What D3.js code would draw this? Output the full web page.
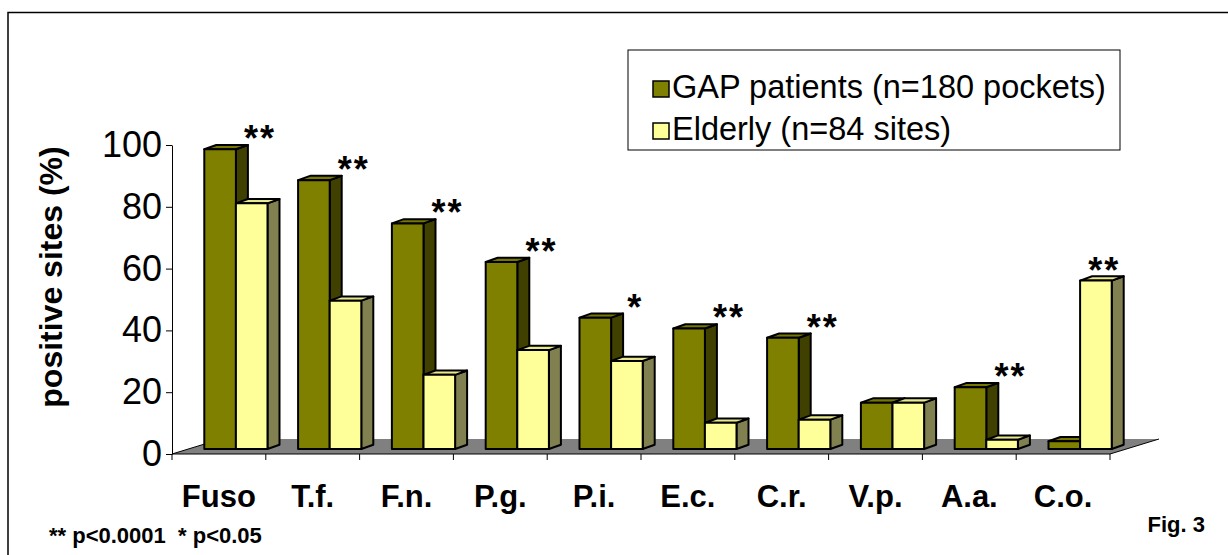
<!DOCTYPE html>
<html>
<head>
<meta charset="utf-8">
<script src="https://cdn.jsdelivr.net/npm/d3@7"></script>
<style>
  body { margin: 0; background: #fff; }
  svg { display: block; font-family: Arial, "Liberation Sans", sans-serif; }
</style>
</head>
<body>
<div id="chart"></div>
<script>
// Data
const categories = ["Fuso", "T.f.", "F.n.", "P.g.", "P.i.", "E.c.", "C.r.", "V.p.", "A.a.", "C.o."];
const seriesNames = ["GAP patients (n=180 pockets)", "Elderly (n=84 sites)"];
const gapValues = [97, 87, 73, 60.5, 42.5, 39, 36, 15, 20, 2.5];
const elderlyValues = [79.5, 48, 24, 32, 28.5, 8.5, 9.5, 15, 3, 54.5];
const sigLabels = ["**", "**", "**", "**", "*", "**", "**", "", "**", "**"];
const yTicks = [0, 20, 40, 60, 80, 100];

const W = 1228, H = 555;

// colours: front, side, top
const colors = [
    { front: "#808000", side: "#404000", top: "#767600" },
    { front: "#ffff99", side: "#808050", top: "#e8e88c" }
];

const svg = d3.select("#chart")
    .append("svg")
    .attr("width", W)
    .attr("height", H);

// page border (top and left only are visible)
svg.append("path")
    .attr("d", `M8,${H} L8,12.5 L${W},12.5`)
    .attr("fill", "none")
    .attr("stroke", "#000")
    .attr("stroke-width", 1.5);

// Scales
const x = d3.scaleBand()
    .domain(categories)
    .range([172, 1110])
    .paddingInner(0)
    .paddingOuter(0);

const xSub = d3.scaleBand()
    .domain([0, 1])
    .range([0, x.bandwidth()])
    .paddingInner(0)
    .paddingOuter(0.484);

const y = d3.scaleLinear()
    .domain([0, 100])
    .range([454, 145]);

// 3D offsets
const floorDx = 49, floorDy = -15;   // full floor depth
const barOffX = 17, barOffY = -5;    // front face of bars sits back from the axis plane
const depthX = 12, depthY = -4.3;    // depth of each bar

// Floor
const x0 = x.range()[0], x1 = x.range()[1], y0 = y(0);
svg.append("path")
    .attr("d", `M${x0},${y0} L${x1},${y0} L${x1 + floorDx},${y0 + floorDy} L${x0 + floorDx},${y0 + floorDy} Z`)
    .attr("fill", "#808080");
svg.append("path")
    .attr("d", `M${x0},${y0} L${x0 + floorDx},${y0 + floorDy} M${x1},${y0} L${x1 + floorDx},${y0 + floorDy}`)
    .attr("fill", "none")
    .attr("stroke", "#000")
    .attr("stroke-width", 1);

// Bars
const rows = [];
categories.forEach((c, i) => {
    [gapValues[i], elderlyValues[i]].forEach((v, s) => rows.push({ cat: c, s: s, v: v }));
});

const bar = svg.append("g").selectAll("g.bar")
    .data(rows)
    .enter().append("g")
    .attr("class", "bar")
    .attr("stroke", "#000")
    .attr("stroke-width", 2)
    .attr("stroke-linejoin", "round");

function geom(d) {
    const left = x(d.cat) + xSub(d.s) + barOffX;
    const right = left + xSub.bandwidth();
    const top = y(d.v) + barOffY;
    const bottom = y(0) + barOffY;
    return { left, right, top, bottom };
}

bar.append("path")
    .attr("fill", d => colors[d.s].side)
    .attr("d", d => {
        const g = geom(d);
        return `M${g.right},${g.bottom} L${g.right + depthX},${g.bottom + depthY} L${g.right + depthX},${g.top + depthY} L${g.right},${g.top} Z`;
    });

bar.append("path")
    .attr("fill", d => colors[d.s].top)
    .attr("d", d => {
        const g = geom(d);
        return `M${g.left},${g.top} L${g.left + depthX},${g.top + depthY} L${g.right + depthX},${g.top + depthY} L${g.right},${g.top} Z`;
    });

bar.append("rect")
    .attr("fill", d => colors[d.s].front)
    .attr("x", d => geom(d).left)
    .attr("y", d => geom(d).top)
    .attr("width", xSub.bandwidth())
    .attr("height", d => geom(d).bottom - geom(d).top);

// Significance marks
svg.append("g").selectAll("text")
    .data(categories)
    .enter().append("text")
    .attr("x", (c, i) => x(c) + 88)
    .attr("y", (c, i) => y(Math.max(gapValues[i], elderlyValues[i])) + barOffY + 2)
    .attr("text-anchor", "middle")
    .style("font-size", "36px")
    .style("font-weight", "bold")
    .style("letter-spacing", "2px")
    .text((c, i) => sigLabels[i]);

// Y axis
const yAxis = d3.axisLeft(y)
    .tickValues(yTicks)
    .tickSize(6)
    .tickSizeOuter(0)
    .tickPadding(4);

const yG = svg.append("g")
    .attr("transform", `translate(${x0},0)`)
    .call(yAxis);
yG.select(".domain").attr("stroke", "#000");
yG.selectAll(".tick line").attr("stroke", "#000");
yG.selectAll(".tick text")
    .style("font-size", "36px")
    .style("font-family", "Arial, 'Liberation Sans', sans-serif")
    .attr("fill", "#000");

// X axis: labels at band centres, ticks at band edges
const xAxis = d3.axisBottom(x).tickSize(0).tickPadding(31);
const xG = svg.append("g")
    .attr("transform", `translate(0,${y0})`)
    .call(xAxis);
xG.select(".domain").attr("stroke", "#000").attr("d", `M${x0},0H${x1}`);
xG.selectAll(".tick text")
    .style("font-size", "31px")
    .style("font-weight", "bold")
    .style("font-family", "Arial, 'Liberation Sans', sans-serif")
    .attr("fill", "#000");

svg.append("g").selectAll("line")
    .data(d3.range(categories.length + 1))
    .enter().append("line")
    .attr("x1", i => x0 + i * x.step())
    .attr("x2", i => x0 + i * x.step())
    .attr("y1", y0)
    .attr("y2", y0 + 6)
    .attr("stroke", "#000");

// Y title
svg.append("text")
    .attr("transform", "translate(62,277) rotate(-90)")
    .attr("text-anchor", "middle")
    .style("font-size", "32px")
    .style("font-weight", "bold")
    .text("positive sites (%)");

// Legend
const legend = svg.append("g").attr("transform", "translate(628,50)");
legend.append("rect")
    .attr("width", 492)
    .attr("height", 100)
    .attr("fill", "#fff")
    .attr("stroke", "#000")
    .attr("stroke-width", 1);

const item = legend.selectAll("g.item")
    .data(seriesNames)
    .enter().append("g")
    .attr("class", "item")
    .attr("transform", (d, i) => `translate(25,${31 + i * 42})`);

item.append("rect")
    .attr("width", 16)
    .attr("height", 16)
    .attr("fill", (d, i) => colors[i].front)
    .attr("stroke", "#000")
    .attr("stroke-width", 1.5);

item.append("text")
    .attr("x", 19)
    .attr("y", 17)
    .style("font-size", "32.5px")
    .text(d => d);

// Footnotes
svg.append("text")
    .attr("x", 49)
    .attr("y", 543)
    .style("font-size", "22px")
    .style("font-weight", "bold")
    .style("white-space", "pre")
    .text("** p<0.0001  * p<0.05");

svg.append("text")
    .attr("x", 1205)
    .attr("y", 532)
    .attr("text-anchor", "end")
    .style("font-size", "22px")
    .style("font-weight", "bold")
    .text("Fig. 3");
</script>
</body>
</html>
